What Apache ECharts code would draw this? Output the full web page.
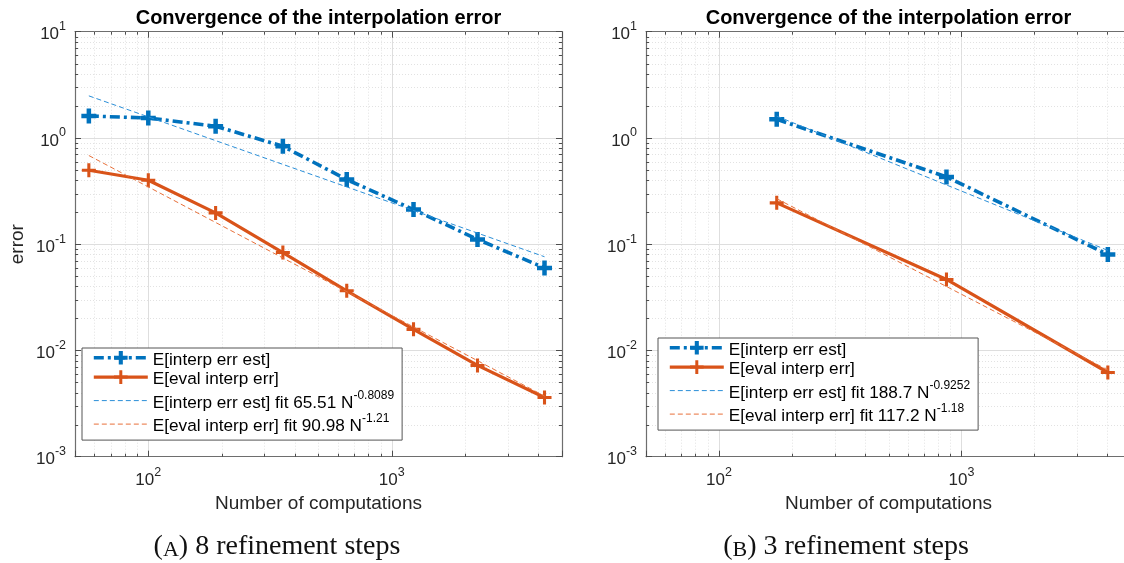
<!DOCTYPE html>
<html>
<head>
<meta charset="utf-8">
<script src="https://cdn.jsdelivr.net/npm/echarts@6/dist/echarts.min.js"></script>
<style>
  html, body { margin: 0; padding: 0; background: #fff; }
  #chart { width: 1124px; height: 563px; }
</style>
</head>
<body>
<div id="chart"></div>
<script>
// ---- Panel A: 8 refinement steps ----
const nA = [57, 100, 189, 357, 653, 1228, 2249, 4238];
const estA = [1.61, 1.54, 1.29, 0.835, 0.406, 0.212, 0.111, 0.0598];
const evalA = [0.497, 0.40, 0.197, 0.0835, 0.0364, 0.0158, 0.00723, 0.00361];
// power-law fits c*N^p, values at the first and last N
const fitNA = [57, 4238];
const fitEstA = [2.489, 0.0762];
const fitEvalA = [0.683, 0.00372];

// ---- Panel B: 3 refinement steps ----
const nB = [173, 867, 4013];
const estB = [1.50, 0.43, 0.080];
const evalB = [0.245, 0.0466, 0.0062];
const fitNB = [173, 4013];
const fitEstB = [1.604, 0.0874];
const fitEvalB = [0.268, 0.00655];

// ---- axes ----
const xRange = [50, 5000];
const yRange = [0.001, 10];
const xMinor = [60, 70, 80, 90, 200, 300, 400, 500, 600, 700, 800, 900, 2000, 3000, 4000];
const yMinor = [0.002, 0.003, 0.004, 0.005, 0.006, 0.007, 0.008, 0.009,
                0.02, 0.03, 0.04, 0.05, 0.06, 0.07, 0.08, 0.09,
                0.2, 0.3, 0.4, 0.5, 0.6, 0.7, 0.8, 0.9,
                2, 3, 4, 5, 6, 7, 8, 9];

// ---- labels ----
const titleText = 'Convergence of the interpolation error';
const xName = 'Number of computations';
const yName = 'error';
const nameEst = 'E[interp err est]';
const nameEval = 'E[eval interp err]';
const fitNamesA = ['E[interp err est] fit 65.51 N^-0.8089', 'E[eval interp err] fit 90.98 N^-1.21'];
const fitNamesB = ['E[interp err est] fit 188.7 N^-0.9252', 'E[eval interp err] fit 117.2 N^-1.18'];
const captionA = ['A', ' 8 refinement steps'];
const captionB = ['B', ' 3 refinement steps'];

const BLUE = '#0072BD';
const ORANGE = '#D95319';
const BLUE_FIT = '#2b8fd8';
const ORANGE_FIT = '#e8703a';
const SANS = '"Liberation Sans", Arial, Helvetica, sans-serif';
const SERIF = '"Liberation Serif", "Times New Roman", serif';
const PLUS_THICK = 'path://M3.5,0H6.5V3.5H10V6.5H6.5V10H3.5V6.5H0V3.5H3.5Z';
const PLUS_THIN = 'path://M3.9,0H6.1V3.9H10V6.1H6.1V10H3.9V6.1H0V3.9H3.9Z';

const panels = [
  { left: 75, right: 562, n: nA, est: estA, ev: evalA, fitN: fitNA, fitEst: fitEstA, fitEv: fitEvalA,
    fitNames: fitNamesA, showYName: true, legendLeft: 82, legendTop: 348, caption: captionA, capX: 277 },
  { left: 646, right: 1131, n: nB, est: estB, ev: evalB, fitN: fitNB, fitEst: fitEstB, fitEv: fitEvalB,
    fitNames: fitNamesB, showYName: false, legendLeft: 658, legendTop: 338, caption: captionB, capX: 846 }
];
const CHART_W = 1124;
const GRID_TOP = 31.7;
const GRID_H = 425;

function powLabel(v) {
  const e = Math.log10(v);
  const r = Math.round(e);
  if (Math.abs(e - r) > 1e-6) return '';
  return '{b|10}{s|' + r + '}';
}
const tickRich = {
  b: { fontSize: 17, fontFamily: SANS, color: '#262626', lineHeight: 23, verticalAlign: 'bottom' },
  s: { fontSize: 12.5, fontFamily: SANS, color: '#262626', lineHeight: 13, verticalAlign: 'top' }
};

function px(v) { return Math.round(v) + 0.5; }

// minor grid (dotted) plus short inside ticks on both opposite edges
function minorXItem(params, api) {
  const x = api.value(0);
  const b = api.coord([x, yRange[0]]);
  const t = api.coord([x, yRange[1]]);
  const X = px(b[0]);
  return { type: 'group', children: [
    { type: 'line', shape: { x1: X, y1: t[1], x2: X, y2: b[1] }, style: { stroke: '#e2e2e2', lineWidth: 1, lineDash: [1, 2] } },
    { type: 'line', shape: { x1: X, y1: b[1], x2: X, y2: b[1] - 3 }, style: { stroke: '#4d4d4d', lineWidth: 1 } },
    { type: 'line', shape: { x1: X, y1: t[1], x2: X, y2: t[1] + 3 }, style: { stroke: '#4d4d4d', lineWidth: 1 } }
  ] };
}
function minorYItem(params, api) {
  const y = api.value(1);
  const l = api.coord([xRange[0], y]);
  const r = api.coord([xRange[1], y]);
  const Y = px(l[1]);
  return { type: 'group', children: [
    { type: 'line', shape: { x1: l[0], y1: Y, x2: r[0], y2: Y }, style: { stroke: '#e2e2e2', lineWidth: 1, lineDash: [1, 2] } },
    { type: 'line', shape: { x1: l[0], y1: Y, x2: l[0] + 3, y2: Y }, style: { stroke: '#4d4d4d', lineWidth: 1 } },
    { type: 'line', shape: { x1: r[0], y1: Y, x2: r[0] - 3, y2: Y }, style: { stroke: '#4d4d4d', lineWidth: 1 } }
  ] };
}

const grid = [], xAxis = [], yAxis = [], series = [], legend = [], graphic = [];

panels.forEach((p, k) => {
  grid.push({ left: p.left, right: CHART_W - p.right, top: GRID_TOP, height: GRID_H,
              containLabel: false, outerBoundsMode: 'none' });
  const boxLine = { show: true, lineStyle: { color: '#6e6e6e', width: 1.2 } };
  // bottom (labelled) and top (mirror) x axes
  xAxis.push({
    type: 'log', logBase: 10, gridIndex: k, min: xRange[0], max: xRange[1], position: 'bottom',
    name: xName, nameLocation: 'middle', nameGap: 38,
    nameTextStyle: { fontSize: 19, fontFamily: SANS, color: '#262626' },
    axisLine: boxLine,
    axisTick: { show: true, inside: true, length: 6, lineStyle: { color: '#4d4d4d' } },
    axisLabel: { formatter: powLabel, rich: tickRich, margin: 9, showMinLabel: true, showMaxLabel: true },
    splitLine: { show: true, lineStyle: { color: '#dedede', width: 1 } }
  });
  xAxis.push({
    type: 'log', logBase: 10, gridIndex: k, min: xRange[0], max: xRange[1], position: 'top',
    axisLine: boxLine,
    axisTick: { show: true, inside: true, length: 6, lineStyle: { color: '#4d4d4d' } },
    axisLabel: { show: false }, splitLine: { show: false }
  });
  yAxis.push({
    type: 'log', logBase: 10, gridIndex: k, min: yRange[0], max: yRange[1], position: 'left',
    name: p.showYName ? yName : '', nameLocation: 'middle', nameGap: 48, nameRotate: 90,
    nameTextStyle: { fontSize: 19, fontFamily: SANS, color: '#262626' },
    axisLine: boxLine,
    axisTick: { show: true, inside: true, length: 6, lineStyle: { color: '#4d4d4d' } },
    axisLabel: { formatter: powLabel, rich: tickRich, margin: 9, showMinLabel: true, showMaxLabel: true },
    splitLine: { show: true, lineStyle: { color: '#dedede', width: 1 } }
  });
  yAxis.push({
    type: 'log', logBase: 10, gridIndex: k, min: yRange[0], max: yRange[1], position: 'right',
    axisLine: boxLine,
    axisTick: { show: true, inside: true, length: 6, lineStyle: { color: '#4d4d4d' } },
    axisLabel: { show: false }, splitLine: { show: false }
  });
  const xi = 2 * k, yi = 2 * k;

  series.push({
    type: 'custom', name: 'minor-x-' + k, xAxisIndex: xi, yAxisIndex: yi, silent: true, z: 1,
    renderItem: minorXItem, data: xMinor.map(v => [v, yRange[0]])
  });
  series.push({
    type: 'custom', name: 'minor-y-' + k, xAxisIndex: xi, yAxisIndex: yi, silent: true, z: 1,
    renderItem: minorYItem, data: yMinor.map(v => [xRange[0], v])
  });

  series.push({
    type: 'line', name: nameEst, xAxisIndex: xi, yAxisIndex: yi, z: 3,
    data: p.n.map((n, i) => [n, p.est[i]]),
    symbol: PLUS_THICK, symbolSize: 15, showAllSymbol: true,
    itemStyle: { color: BLUE },
    lineStyle: { color: BLUE, width: 3.6, type: [10, 4, 3, 4], cap: 'butt' },
    animation: false
  });
  series.push({
    type: 'line', name: nameEval, xAxisIndex: xi, yAxisIndex: yi, z: 3,
    data: p.n.map((n, i) => [n, p.ev[i]]),
    symbol: PLUS_THIN, symbolSize: 14, showAllSymbol: true,
    itemStyle: { color: ORANGE },
    lineStyle: { color: ORANGE, width: 3.2, type: 'solid' },
    animation: false
  });
  series.push({
    type: 'line', name: p.fitNames[0], xAxisIndex: xi, yAxisIndex: yi, z: 4,
    data: p.fitN.map((n, i) => [n, p.fitEst[i]]),
    symbol: 'none', itemStyle: { color: BLUE_FIT },
    lineStyle: { color: BLUE_FIT, width: 1, type: [5, 3] }, animation: false
  });
  series.push({
    type: 'line', name: p.fitNames[1], xAxisIndex: xi, yAxisIndex: yi, z: 4,
    data: p.fitN.map((n, i) => [n, p.fitEv[i]]),
    symbol: 'none', itemStyle: { color: ORANGE_FIT },
    lineStyle: { color: ORANGE_FIT, width: 1, type: [5, 3] }, animation: false
  });

  legend.push({
    orient: 'vertical', left: p.legendLeft, top: p.legendTop,
    backgroundColor: '#fff', borderColor: '#555', borderWidth: 1,
    padding: [3, 8, 5, 10], itemGap: 1.5, itemWidth: 54, itemHeight: 17,
    selectedMode: false,
    lineStyle: { width: 'inherit', type: 'inherit', color: 'inherit' },
    data: [
      { name: nameEst },
      { name: nameEval },
      { name: p.fitNames[0], itemStyle: { opacity: 0 }, lineStyle: { color: BLUE_FIT, width: 1, type: [5, 3] } },
      { name: p.fitNames[1], itemStyle: { opacity: 0 }, lineStyle: { color: ORANGE_FIT, width: 1, type: [5, 3] } }
    ],
    formatter: function (name) {
      const i = name.indexOf('^');
      if (i < 0) return '{t|' + name + '}';
      return '{t|' + name.slice(0, i) + '}{s|' + name.slice(i + 1) + '}';
    },
    textStyle: {
      color: '#000',
      rich: {
        t: { fontSize: 17.2, fontFamily: SANS, color: '#000', lineHeight: 22, verticalAlign: 'bottom' },
        s: { fontSize: 12, fontFamily: SANS, color: '#000', lineHeight: 12, verticalAlign: 'top' }
      }
    }
  });

  const centerX = (p.left + p.right) / 2;
  graphic.push({
    type: 'text', x: centerX, y: 8, silent: true,
    style: { text: titleText, align: 'center', textAlign: 'center', verticalAlign: 'top',
             fontSize: 20, fontWeight: 'bold', fontFamily: SANS, fill: '#000' }
  });
  graphic.push({
    type: 'text', x: p.capX, y: 531, silent: true,
    style: {
      text: '{p|(}{c|' + p.caption[0] + '}{p|)' + p.caption[1] + '}',
      align: 'center', textAlign: 'center', verticalAlign: 'top',
      rich: {
        p: { fontSize: 28, fontFamily: SERIF, fill: '#111', lineHeight: 30, verticalAlign: 'bottom' },
        c: { fontSize: 22, fontFamily: SERIF, fill: '#111', lineHeight: 30, verticalAlign: 'bottom' }
      }
    }
  });
});

const chart = echarts.init(document.getElementById('chart'), null, { renderer: 'canvas' });
chart.setOption({
  backgroundColor: '#fff',
  animation: false,
  grid, xAxis, yAxis, series, legend, graphic
});
</script>
</body>
</html>
